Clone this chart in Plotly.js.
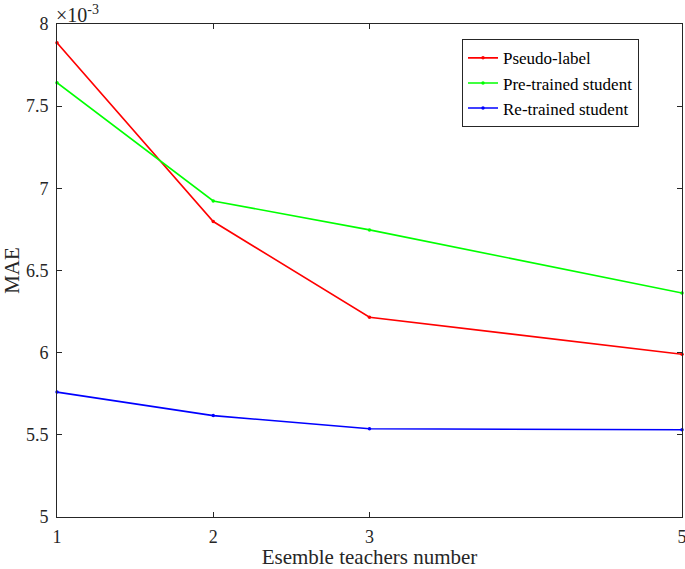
<!DOCTYPE html>
<html>
<head>
<meta charset="utf-8">
<script src="https://cdn.plot.ly/plotly-3.0.1.min.js"></script>
<style>html,body{margin:0;padding:0;background:#fff;}#chart{width:685px;height:569px;}</style>
</head>
<body>
<div id="chart"></div>
<script>
const teachers = [1, 2, 3, 5];
const pseudoLabel = [0.007886, 0.006798, 0.006216, 0.005990];
const preTrained = [0.007643, 0.006923, 0.006747, 0.006363];
const reTrained = [0.005760, 0.005617, 0.005537, 0.005531];
const seriesNames = ['Pseudo-label', 'Pre-trained student', 'Re-trained student'];
const xTicks = [1, 2, 3, 5];
const yTickVals = [0.005, 0.0055, 0.006, 0.0065, 0.007, 0.0075, 0.008];
const yTickText = ['5', '5.5', '6', '6.5', '7', '7.5', '8'];

const FONT = '"Times New Roman", "Liberation Serif", Times, "DejaVu Serif", serif';
const colors = ['#ff0000', '#00ff00', '#0000ff'];
const ys = [pseudoLabel, preTrained, reTrained];
const traces = ys.map((y, i) => ({
  x: teachers, y: y, name: seriesNames[i], type: 'scatter', mode: 'lines+markers',
  line: {color: colors[i], width: 1.6},
  marker: {color: colors[i], size: 3.5},
  cliponaxis: false
}));

const axisCommon = {
  showline: true, linecolor: '#262626', linewidth: 1, mirror: 'ticks',
  ticks: 'inside', ticklen: 5, tickcolor: '#262626', tickwidth: 1,
  showgrid: false, zeroline: false, ticklabeloverflow: 'allow',
  tickfont: {family: FONT, size: 18, color: '#262626'}
};

const layout = {
  width: 685, height: 569,
  font: {family: FONT},
  margin: {l: 57, r: 3, t: 24, b: 52},
  paper_bgcolor: '#fff', plot_bgcolor: '#fff',
  showlegend: true,
  legend: {
    x: 0.648, y: 0.969, xanchor: 'left', yanchor: 'top',
    bgcolor: '#fff', bordercolor: '#262626', borderwidth: 1,
    font: {family: FONT, size: 17, color: '#000'},
    tracegroupgap: 0
  },
  xaxis: Object.assign({}, axisCommon, {
    range: [1, 5], tickvals: xTicks, ticktext: xTicks.map(String),
    ticklabelstandoff: 3,
    title: {text: 'Esemble teachers number', standoff: 8,
      font: {family: FONT, size: 21, color: '#262626'}}
  }),
  yaxis: Object.assign({}, axisCommon, {
    range: [0.005, 0.008], tickvals: yTickVals, ticktext: yTickText,
    ticklabelstandoff: 4,
    title: {text: 'MAE', standoff: 4,
      font: {family: FONT, size: 21, color: '#262626'}}
  }),
  annotations: [{
    xref: 'paper', yref: 'paper', x: 0, y: 1, xanchor: 'left', yanchor: 'bottom',
    xshift: -3, yshift: -4,
    text: '×10<sup>-3</sup>', showarrow: false,
    font: {family: FONT, size: 20, color: '#262626'}
  }]
};

Plotly.newPlot('chart', traces, layout, {displayModeBar: false, staticPlot: true});
</script>
</body>
</html>
